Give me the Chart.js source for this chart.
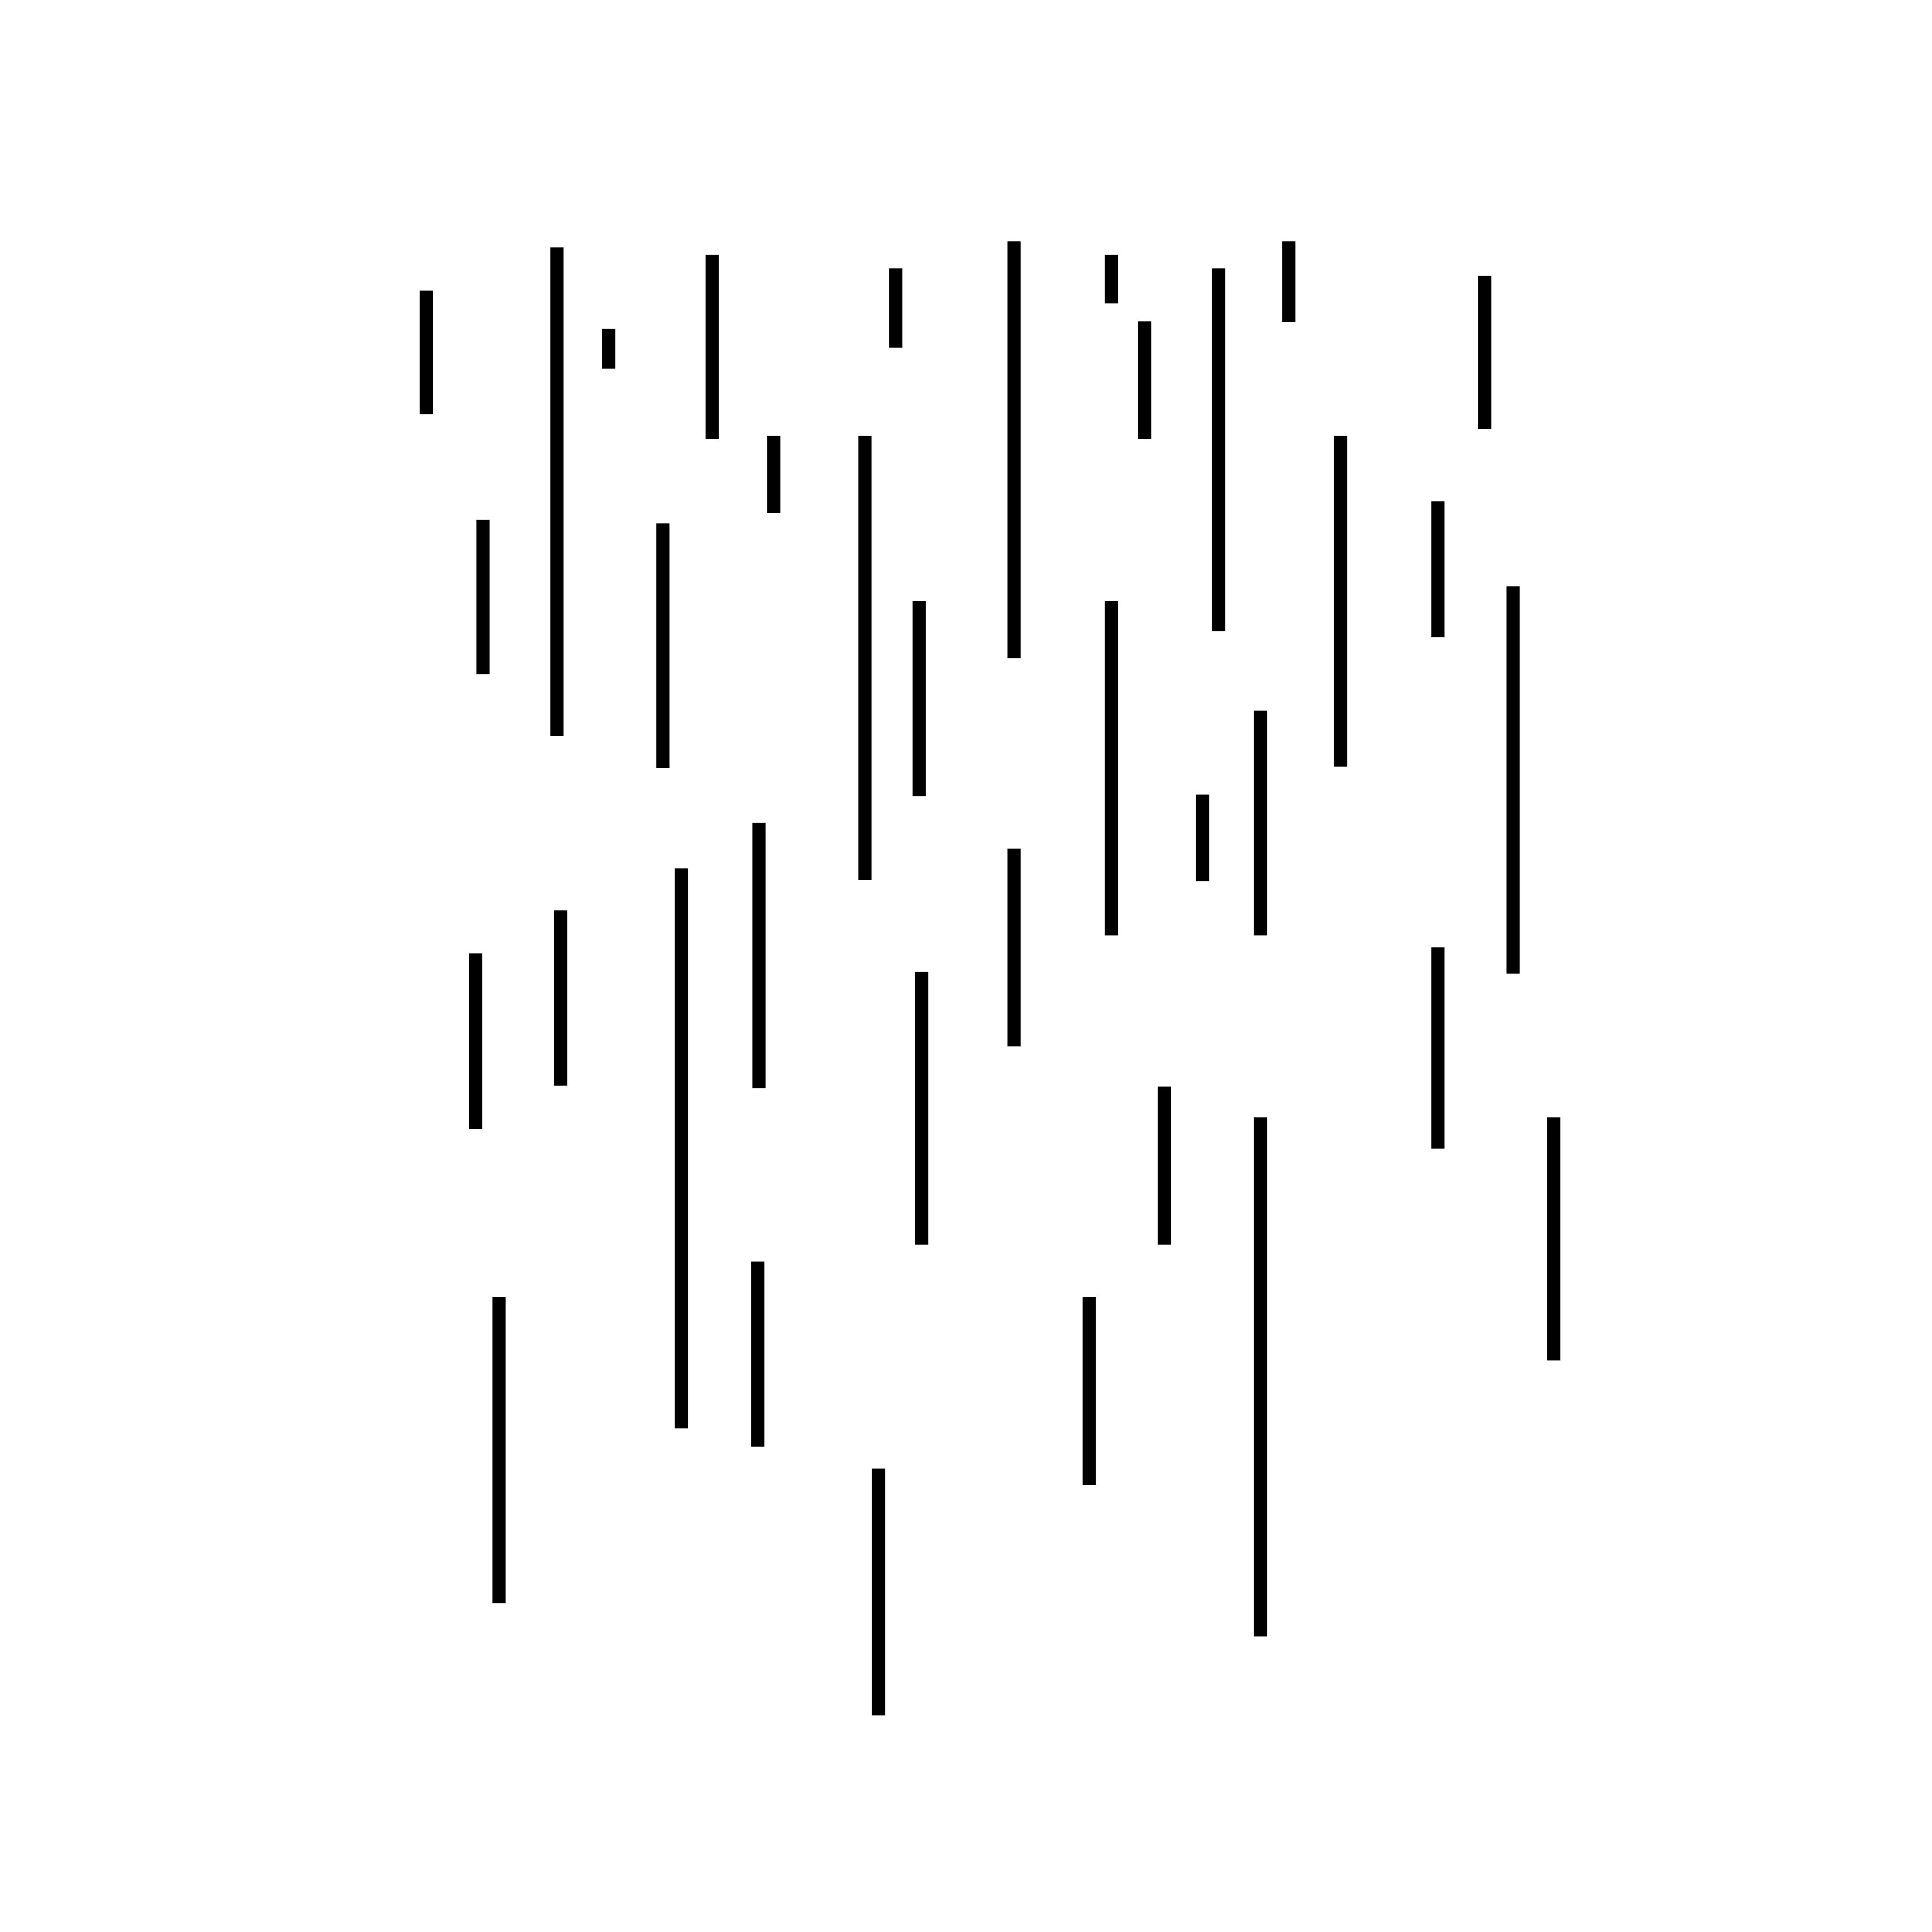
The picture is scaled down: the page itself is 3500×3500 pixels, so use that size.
<!DOCTYPE html>
<html>
<head>
<meta charset="utf-8">
<script src="https://cdn.jsdelivr.net/npm/chart.js@4/dist/chart.umd.min.js"></script>
<style>
  html, body { margin: 0; padding: 0; background: #fff; }
  #wrap { width: 3500px; height: 3500px; }
</style>
</head>
<body>
<div id="wrap"><canvas id="myChart" width="3500" height="3500"></canvas></div>
<script>
// positions, in a 0..1568 unit on both axes (y grows downward)
const xValues = [346, 392, 386, 405, 452, 455, 494, 538, 553, 578, 616, 615, 628, 702, 713, 727, 746, 748,
  823, 823, 884, 902, 902, 929, 945, 976, 989, 1023, 1023, 1046, 1088, 1167, 1167, 1205, 1228, 1261];
const yTop = [236, 422, 774, 1053, 201, 739, 267, 425, 705, 207, 668, 1024, 354, 354, 1192, 218, 488, 789,
  196, 689, 1053, 207, 488, 261, 882, 645, 218, 577, 907, 196, 354, 407, 769, 224, 476, 907];
const yBottom = [336, 547, 916, 1301, 597, 881, 299, 623, 1159, 356, 883, 1174, 416, 714, 1392, 282, 646, 1010,
  534, 849, 1205, 246, 759, 356, 1010, 715, 512, 759, 1328, 261, 622, 517, 932, 348, 790, 1104];

const points = xValues.map((x, i) => ({ x: x, y: [yTop[i], yBottom[i]] }));

new Chart("myChart", {
  type: "bar",
  data: {
    datasets: [
      {
        data: points,
        backgroundColor: "#000000",
        borderWidth: 0,
        barThickness: 23,
      },
    ],
  },
  options: {
    responsive: false,
    animation: false,
    devicePixelRatio: 1,
    layout: { padding: 0 },
    plugins: { legend: { display: false }, tooltip: { enabled: false } },
    scales: {
      x: { type: "linear", min: 0, max: 1568, offset: false, display: false },
      y: { type: "linear", min: 0, max: 1568, reverse: true, display: false },
    },
  },
});
</script>
</body>
</html>
